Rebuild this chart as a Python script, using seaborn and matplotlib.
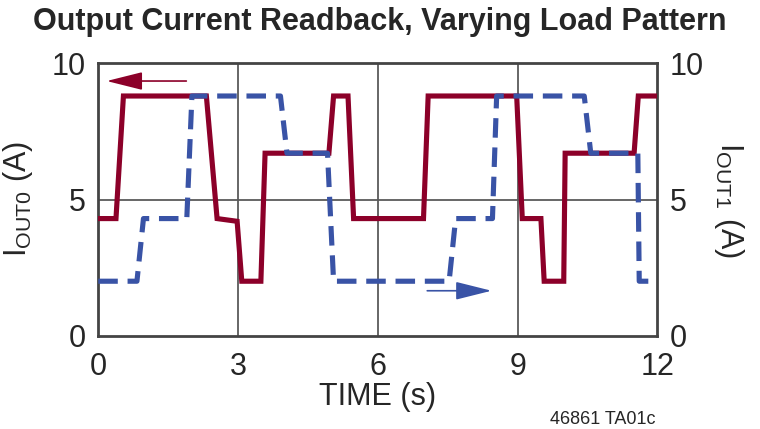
import matplotlib
matplotlib.use("Agg")
import matplotlib.pyplot as plt
import seaborn as sns
import pandas as pd

# readback traces
t_out0 = [0, 0.38, 0.54, 2.32, 2.55, 2.98, 3.08, 3.49, 3.58, 4.95, 5.05, 5.36,
          5.48, 6.98, 7.08, 8.98, 9.10, 9.50, 9.57, 9.99, 10.02, 11.50, 11.59, 12]
i_out0 = [4.3, 4.3, 8.8, 8.8, 4.3, 4.2, 2.0, 2.0, 6.7, 6.7, 8.8, 8.8,
          4.3, 4.3, 8.8, 8.8, 4.3, 4.3, 2.0, 2.0, 6.7, 6.7, 8.8, 8.8]

t_out1 = [0, 0.83, 0.97, 1.90, 2.01, 3.91, 4.05, 4.92, 5.05, 7.53, 7.67, 8.46,
          8.55, 10.43, 10.57, 11.58, 11.61, 12]
i_out1 = [2.0, 2.0, 4.3, 4.3, 8.8, 8.8, 6.7, 6.7, 2.0, 2.0, 4.3, 4.3,
          8.8, 8.8, 6.7, 6.7, 2.0, 2.0]

x_ticks = [0, 3, 6, 9, 12]
y_ticks = [0, 5, 10]

RED = "#8C0029"
BLUE = "#3953A6"
GRID = "#5a5a5a"

sns.set_style("white")
plt.rcParams["font.family"] = ["Liberation Sans Narrow", "Liberation Sans", "DejaVu Sans"]
plt.rcParams["mathtext.fontset"] = "custom"
plt.rcParams["mathtext.rm"] = "Liberation Sans"
plt.rcParams["mathtext.it"] = "Liberation Sans"

fig = plt.figure(figsize=(7.6, 4.29), dpi=100)
ax = fig.add_axes([0.1293, 0.2175, 0.7357, 0.6349])

df0 = pd.DataFrame({"t": t_out0, "i": i_out0})
df1 = pd.DataFrame({"t": t_out1, "i": i_out1})

sns.lineplot(data=df0, x="t", y="i", ax=ax, color=RED, lw=3.7,
             estimator=None, sort=False, zorder=3)
sns.lineplot(data=df1, x="t", y="i", ax=ax, color=BLUE, lw=3.7,
             estimator=None, sort=False, zorder=4, dashes=False)
ax.lines[-1].set_dashes((3.8, 1.9))
ax.lines[-1].set_dash_capstyle("butt")
ax.lines[0].set_solid_joinstyle("miter")

ax.set_xlim(0, 12)
ax.set_ylim(0, 10)
ax.set_xticks(x_ticks)
ax.set_yticks(y_ticks)
ax.tick_params(axis="y", length=0, labelsize=22, pad=9)
ax.tick_params(axis="x", length=0, labelsize=22, pad=12)
for v in [3, 6, 9]:
    ax.axvline(v, color=GRID, lw=1.3, zorder=1)
ax.axhline(5, color=GRID, lw=1.3, zorder=1)
for s in ax.spines.values():
    s.set_color("#444444")
    s.set_linewidth(2)

ax.set_xlabel("TIME (s)", fontsize=22, labelpad=0)
ax.set_ylabel(r"I$_{\mathrm{OUT0}}$ (A)", fontsize=22, labelpad=12)

ax2 = ax.twinx()
ax2.set_ylim(0, 10)
ax2.set_yticks(y_ticks)
ax2.tick_params(length=0, labelsize=22, pad=9)
ax2.set_ylabel(r"I$_{\mathrm{OUT1}}$ (A)", fontsize=22, rotation=270, labelpad=30)
for s in ax2.spines.values():
    s.set_visible(False)

# direction arrows pointing to each axis
arrow_style = "-|>,head_length=1.6,head_width=0.4"
ax.annotate("", xy=(0.18, 9.35), xytext=(1.89, 9.35),
            arrowprops=dict(arrowstyle=arrow_style, mutation_scale=14,
                            color=RED, lw=1.2, shrinkA=0, shrinkB=0))
ax.annotate("", xy=(8.44, 1.65), xytext=(7.06, 1.65),
            arrowprops=dict(arrowstyle=arrow_style, mutation_scale=14,
                            color=BLUE, lw=1.2, shrinkA=0, shrinkB=0))

fig.text(0.5, 0.948, "Output Current Readback, Varying Load Pattern",
         ha="center", va="center", fontsize=22, fontweight="bold")
fig.text(0.793, 0.022, "46861 TA01c", ha="center", va="center", fontsize=13)

fig.savefig("out.png", dpi=100)
